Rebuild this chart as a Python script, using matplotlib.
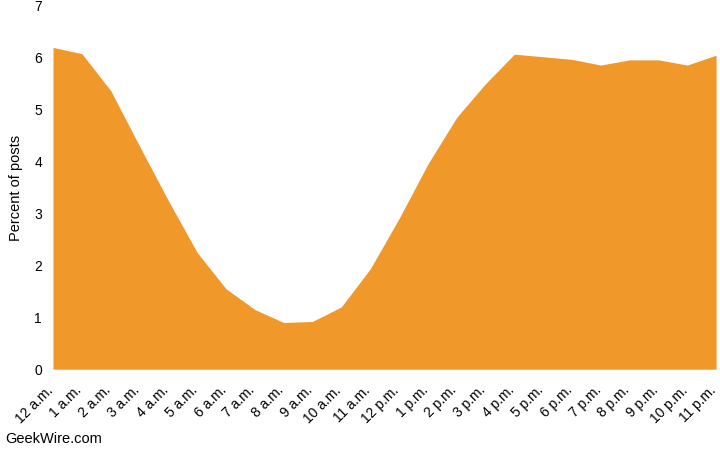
import matplotlib
matplotlib.use("Agg")
import matplotlib.pyplot as plt
import matplotlib.transforms as mtransforms
import numpy as np

plt.rcParams['font.family'] = ['Liberation Sans', 'DejaVu Sans']

hours = ['12 a.m.', '1 a.m.', '2 a.m.', '3 a.m.', '4 a.m.', '5 a.m.', '6 a.m.',
         '7 a.m.', '8 a.m.', '9 a.m.', '10 a.m.', '11 a.m.', '12 p.m.', '1 p.m.',
         '2 p.m.', '3 p.m.', '4 p.m.', '5 p.m.', '6 p.m.', '7 p.m.', '8 p.m.',
         '9 p.m.', '10 p.m.', '11 p.m.']
percent = [6.2, 6.08, 5.37, 4.3, 3.25, 2.25, 1.55, 1.15, 0.9, 0.92, 1.2, 1.93,
           2.9, 3.95, 4.85, 5.5, 6.07, 6.02, 5.97, 5.86, 5.96, 5.96, 5.86, 6.05]
y_ticks = [0, 1, 2, 3, 4, 5, 6, 7]

fig = plt.figure(figsize=(7.2, 4.53), dpi=100)
ax = fig.add_axes([0.0736, 0.185, 0.921, 0.802])

x = np.arange(len(hours))
ax.fill_between(x, 0, percent, color='#F0992A', linewidth=0)

ax.set_xlim(0, len(hours) - 1)
ax.set_ylim(0, 7)
ax.set_yticks(y_ticks)
ax.set_yticklabels([str(t) for t in y_ticks], fontsize=10)
ax.set_xticks(x)
ax.set_xticklabels(hours, rotation=45, ha='right', rotation_mode='anchor', fontsize=10)
ax.tick_params(length=0, pad=8)
ax.tick_params(axis='x', pad=8)

# nudge the rotated labels a little left so the last one fits
shift = mtransforms.ScaledTranslation(-0.07, -0.03, fig.dpi_scale_trans)
for lbl in ax.get_xticklabels():
    lbl.set_transform(lbl.get_transform() + shift)

for s in ax.spines.values():
    s.set_visible(False)

ax.set_ylabel('Percent of posts', fontsize=10.5, labelpad=8)
fig.text(0.007, 0.015, 'GeekWire.com', fontsize=10.5, ha='left', va='bottom')

plt.savefig('out.png', dpi=100)
